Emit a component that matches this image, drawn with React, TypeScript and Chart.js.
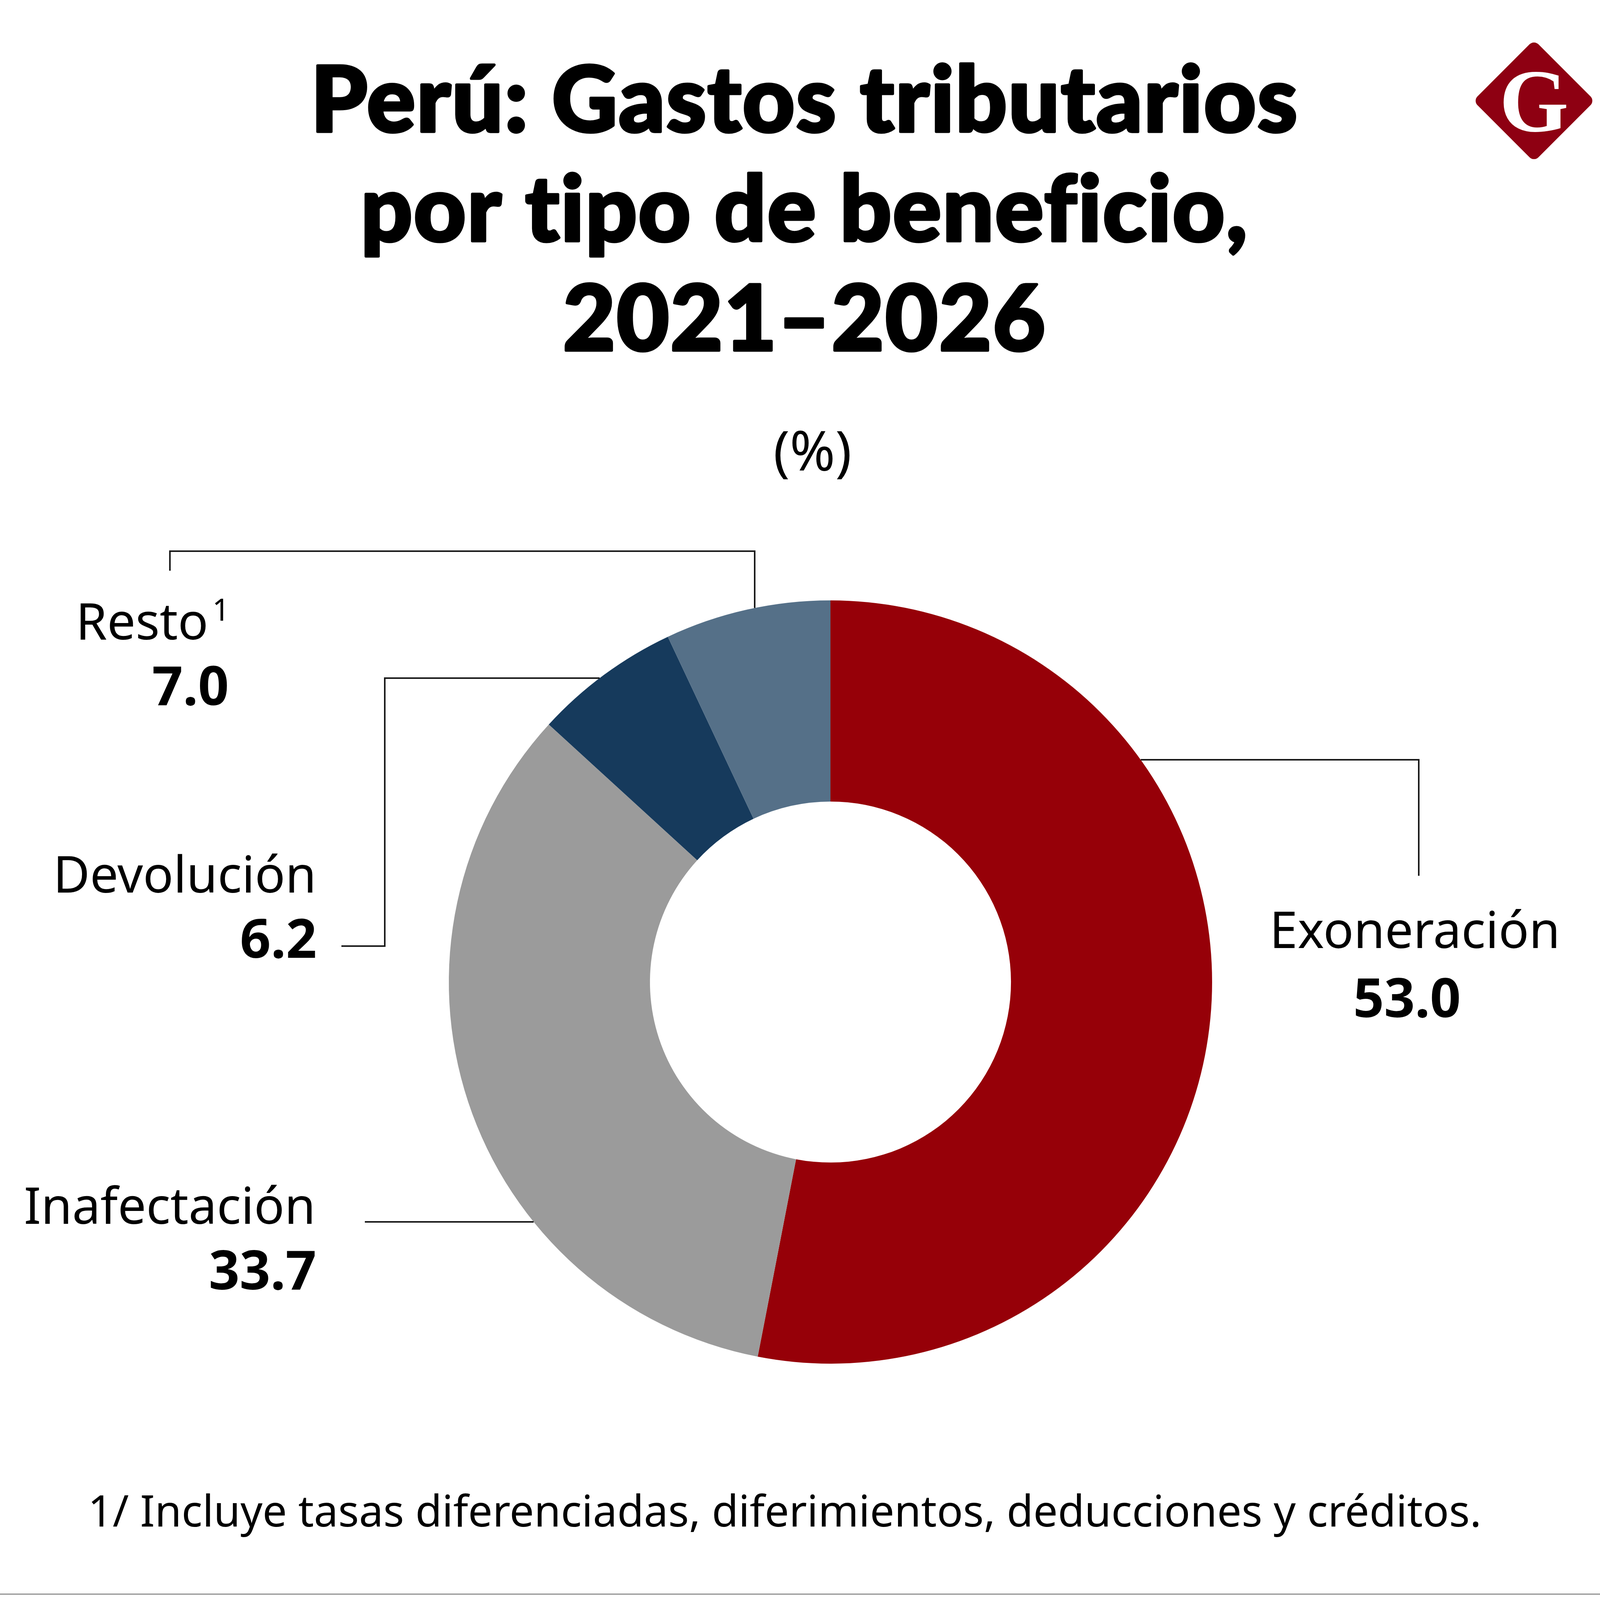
import React, { useEffect, useRef } from "react";
import { Chart, registerables } from "chart.js";

Chart.register(...registerables);

const categories = ["Exoneración", "Inafectación", "Devolución", "Resto"];
const values = [53.0, 33.7, 6.2, 7.0];
const valueLabels = ["53.0", "33.7", "6.2", "7.0"];
const colors = ["#960008", "#9b9b9b", "#163a5c", "#557088"];
const titleLines = ["Perú: Gastos tributarios", "por tipo de beneficio,", "2021–2026"];
const unitLabel = "(%)";
const restoNote = "1";
const footnote = "1/ Incluye tasas diferenciadas, diferimientos, deducciones y créditos.";
const source = "FUENTE:  CIAT (2011) y Sunat.";
const logoLetter = "G";

const W = 4150;
const H = 4608;
const LABEL_FONT = '"Noto Sans", "Open Sans", sans-serif';
const TITLE_FONT = 'Lato, Inter, "Noto Sans", sans-serif';

const overlayPlugin = {
  id: "overlay",
  afterDraw(chart: any) {
    const ctx: any = chart.ctx;
    const meta = chart.getDatasetMeta(0);
    const arc: any = meta.data[0];
    const cx = arc.x;
    const cy = arc.y;
    const R = arc.outerRadius;
    const edgeX = (y: number, side: number) => cx + side * Math.sqrt(Math.max(R * R - (y - cy) * (y - cy), 0));
    const edgeY = (x: number, side: number) => cy + side * Math.sqrt(Math.max(R * R - (x - cx) * (x - cx), 0));

    ctx.save();
    // Title
    ctx.fillStyle = "#000";
    ctx.strokeStyle = "#000";
    ctx.textAlign = "center";
    ctx.textBaseline = "alphabetic";
    ctx.font = `900 232px ${TITLE_FONT}`;
    ctx.letterSpacing = "3px";
    ctx.lineWidth = 7;
    ctx.lineJoin = "round";
    const titleBase = [337, 617, 897];
    titleLines.forEach((t, i) => {
      ctx.fillText(t, 2060, titleBase[i]);
      ctx.strokeText(t, 2060, titleBase[i]);
    });
    ctx.letterSpacing = "0px";

    ctx.font = `400 140px ${LABEL_FONT}`;
    ctx.fillText(unitLabel, 2080, 1205);

    // Logo
    const lx = 3927, ly = 258, half = 156, rr = 16;
    ctx.save();
    ctx.translate(lx, ly);
    ctx.rotate(Math.PI / 4);
    const s = half * Math.SQRT2;
    ctx.beginPath();
    ctx.roundRect(-s / 2, -s / 2, s, s, rr);
    ctx.fillStyle = "#8e0012";
    ctx.fill();
    ctx.restore();
    ctx.fillStyle = "#fff";
    ctx.font = `700 228px "Liberation Serif", "DejaVu Serif", serif`;
    ctx.textAlign = "center";
    ctx.fillText(logoLetter, lx, 336);

    // Leader lines
    ctx.strokeStyle = "#1a1a1a";
    ctx.lineWidth = 4;
    ctx.lineCap = "butt";
    ctx.lineJoin = "miter";
    const poly = (pts: number[][]) => {
      ctx.beginPath();
      ctx.moveTo(pts[0][0], pts[0][1]);
      for (let i = 1; i < pts.length; i++) ctx.lineTo(pts[i][0], pts[i][1]);
      ctx.stroke();
    };
    poly([[edgeX(1945, 1), 1945], [3632, 1945], [3632, 2242]]);
    poly([[1932, edgeY(1932, -1)], [1932, 1411], [435, 1411], [435, 1461]]);
    poly([[edgeX(1736, -1), 1736], [985, 1736], [985, 2422], [874, 2422]]);
    poly([[edgeX(3128, -1), 3128], [934, 3128]]);

    // Labels
    ctx.fillStyle = "#000";
    const nameFont = `400 129px ${LABEL_FONT}`;
    const valFont = `700 138px ${LABEL_FONT}`;
    ctx.textAlign = "center";
    ctx.font = nameFont;
    ctx.fillText(categories[0], 3622, 2427);
    ctx.font = valFont;
    ctx.fillText(valueLabels[0], 3602, 2604);

    ctx.textAlign = "right";
    ctx.font = nameFont;
    ctx.fillText(categories[1], 808, 3133);
    ctx.font = valFont;
    ctx.fillText(valueLabels[1], 810, 3301);

    ctx.font = nameFont;
    ctx.fillText(categories[2], 810, 2285);
    ctx.font = valFont;
    ctx.fillText(valueLabels[2], 811, 2452);

    ctx.font = `400 78px ${LABEL_FONT}`;
    ctx.fillText(restoNote, 588, 1589);
    const supW = ctx.measureText(restoNote).width;
    ctx.font = nameFont;
    ctx.fillText(categories[3], 588 - supW - 10, 1637);
    ctx.font = valFont;
    ctx.fillText(valueLabels[3], 586, 1805);

    // Footnote
    ctx.textAlign = "left";
    ctx.font = `400 111px ${LABEL_FONT}`;
    ctx.fillText(footnote, 225, 3908);

    // Separator
    ctx.strokeStyle = "#909090";
    ctx.lineWidth = 3;
    ctx.beginPath();
    ctx.moveTo(0, 4081);
    ctx.lineTo(W, 4081);
    ctx.stroke();

    ctx.fillStyle = "#000";
    ctx.font = `400 112px ${LABEL_FONT}`;
    ctx.fillText(source, 226, 4340);
    ctx.restore();
  },
};

export default function App() {
  const ref = useRef<HTMLCanvasElement | null>(null);
  useEffect(() => {
    if (!ref.current) return;
    const chart = new Chart(ref.current, {
      type: "doughnut",
      data: {
        labels: categories,
        datasets: [
          {
            data: values,
            backgroundColor: colors,
            borderWidth: 0,
            hoverOffset: 0,
          },
        ],
      },
      options: {
        responsive: false,
        animation: false,
        devicePixelRatio: 1,
        cutout: "47.3%",
        rotation: 0,
        layout: { padding: { left: 1149, right: 1047, top: 1537, bottom: 1117 } },
        plugins: {
          legend: { display: false },
          title: { display: false },
          tooltip: { enabled: false },
        },
        events: [],
      },
      plugins: [
        {
          id: "bg",
          beforeDraw(c: any) {
            const g = c.ctx;
            g.save();
            g.fillStyle = "#fff";
            g.fillRect(0, 0, W, H);
            g.restore();
          },
        },
        overlayPlugin,
      ],
    });
    return () => chart.destroy();
  }, []);
  return (
    <div style={{ position: "absolute", left: 0, top: 0, width: W, height: H, background: "#fff" }}>
      <canvas ref={ref} width={W} height={H} style={{ width: W, height: H, display: "block" }} />
    </div>
  );
}
